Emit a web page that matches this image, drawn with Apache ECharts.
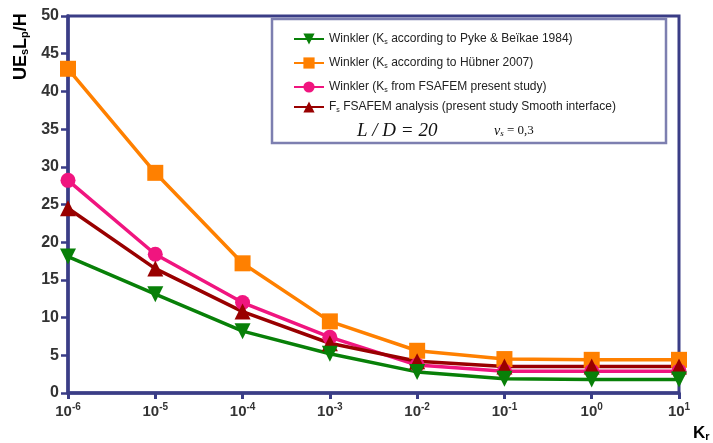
<!DOCTYPE html>
<html>
<head>
<meta charset="utf-8">
<script src="https://cdn.jsdelivr.net/npm/echarts@6/dist/echarts.min.js"></script>
<style>
  html, body { margin: 0; padding: 0; background: #fff; }
  #chart { width: 713px; height: 443px; }
</style>
</head>
<body>
<div id="chart"></div>
<script>
// Relative stiffness K_r, as powers of ten
const exponents = ['-6', '-5', '-4', '-3', '-2', '-1', '0', '1'];

// Normalised head displacement U·E_s·L_p/H for each method
const pykeBeikae = [18.1, 13.1, 8.2, 5.2, 2.8, 1.9, 1.8, 1.8];
const hubner = [43.0, 29.2, 17.2, 9.5, 5.6, 4.5, 4.4, 4.4];
const fsafemWinkler = [28.2, 18.4, 12.0, 7.4, 3.7, 2.9, 2.9, 2.9];
const fsafemSmooth = [24.5, 16.5, 10.8, 6.6, 4.2, 3.5, 3.5, 3.5];

const yTicks = { min: 0, max: 50, step: 5 };

const names = {
  pyke: 'pyke',
  hubner: 'hubner',
  fsafem: 'fsafem',
  smooth: 'smooth'
};
const legendText = {
  pyke: '{t|Winkler (K}{s|s}{t| according to Pyke & Beïkae 1984)}',
  hubner: '{t|Winkler (K}{s|s}{t| according to Hübner 2007)}',
  fsafem: '{t|Winkler (K}{s|s}{t| from FSAFEM present study)}',
  smooth: '{t|F}{s|s}{t| FSAFEM analysis (present study Smooth interface)}'
};

const navy = '#3a3d86';
const labelColor = '#333';

const chart = echarts.init(document.getElementById('chart'));

function legendFor(key, top) {
  return {
    data: [names[key]],
    left: 288,
    top: top,
    itemWidth: 30,
    itemHeight: 14,
    itemGap: 8,
    formatter: () => legendText[key],
    textStyle: {
      rich: {
        t: { fontFamily: 'Liberation Sans, Arial', fontSize: 12, color: '#222' },
        s: { fontFamily: 'Liberation Sans, Arial', fontSize: 7, color: '#222', padding: [6, 0, 0, 0] }
      }
    }
  };
}

function lineSeries(key, data, color, symbol, size, rotate) {
  return {
    name: names[key],
    type: 'line',
    data: data,
    symbol: symbol,
    symbolSize: size,
    symbolRotate: rotate || 0,
    lineStyle: { color: color, width: 3.5 },
    itemStyle: { color: color },
    emphasis: { disabled: true },
    animation: false
  };
}

chart.setOption({
  backgroundColor: '#fff',
  animation: false,
  grid: {
    left: 68, right: 34, top: 16, bottom: 50,
    show: true, borderColor: navy, borderWidth: 3, backgroundColor: 'transparent'
  },
  legend: [
    legendFor('pyke', 28),
    legendFor('hubner', 52),
    legendFor('fsafem', 76),
    legendFor('smooth', 96)
  ],
  xAxis: {
    type: 'category',
    data: exponents,
    boundaryGap: false,
    axisLine: { lineStyle: { color: navy, width: 3.5 } },
    axisTick: { alignWithLabel: true, length: 6, lineStyle: { color: navy, width: 3 } },
    axisLabel: {
      margin: 9,
      formatter: v => '{b|10}{e|' + v + '}',
      rich: {
        b: { fontFamily: 'Liberation Sans, Arial', fontWeight: 'bold', fontSize: 15, color: labelColor },
        e: { fontFamily: 'Liberation Sans, Arial', fontWeight: 'bold', fontSize: 10, color: labelColor, padding: [0, 0, 9, 0] }
      }
    },
    splitLine: { show: false }
  },
  yAxis: {
    type: 'value',
    min: yTicks.min,
    max: yTicks.max,
    interval: yTicks.step,
    axisLine: { show: true, lineStyle: { color: navy, width: 3.5 } },
    axisTick: { show: true, length: 7, lineStyle: { color: navy, width: 2.5 } },
    axisLabel: {
      margin: 9,
      fontFamily: 'Liberation Sans, Arial',
      fontWeight: 'bold',
      fontSize: 16,
      color: labelColor
    },
    splitLine: { show: false }
  },
  graphic: [
    {
      type: 'rect',
      z: 0,
      shape: { x: 272, y: 19, width: 394, height: 124 },
      style: { fill: '#fff', stroke: '#7d7fb0', lineWidth: 2.5 }
    },
    {
      type: 'text',
      x: 357, y: 131,
      style: {
        text: 'L / D = 20',
        font: 'italic 19px "Liberation Serif", "Times New Roman", serif',
        fill: '#111',
        verticalAlign: 'middle'
      }
    },
    {
      type: 'text',
      x: 494, y: 131,
      style: {
        text: '{v|ν}{s|s}{n| = 0,3}',
        verticalAlign: 'middle',
        rich: {
          v: { font: 'italic 14px "Liberation Serif", serif', fill: '#111' },
          s: { font: 'italic 9px "Liberation Serif", serif', fill: '#111', padding: [6, 0, 0, 0] },
          n: { font: '13px "Liberation Serif", serif', fill: '#111' }
        }
      }
    },
    {
      type: 'text',
      x: 21, y: 80,
      rotation: Math.PI / 2,
      style: {
        text: '{a|UE}{b|s}{a|L}{b|p}{a|/H}',
        verticalAlign: 'middle',
        rich: {
          a: { fontFamily: 'Liberation Sans, Arial', fontWeight: 'bold', fontSize: 18, color: '#111' },
          b: { fontFamily: 'Liberation Sans, Arial', fontWeight: 'bold', fontSize: 11, color: '#111', padding: [8, 0, 0, 0] }
        }
      }
    },
    {
      type: 'text',
      x: 693, y: 433,
      style: {
        text: '{a|K}{b|r}',
        verticalAlign: 'middle',
        rich: {
          a: { fontFamily: 'Liberation Sans, Arial', fontWeight: 'bold', fontSize: 17, color: '#111' },
          b: { fontFamily: 'Liberation Sans, Arial', fontWeight: 'bold', fontSize: 11, color: '#111', padding: [8, 0, 0, 0] }
        }
      }
    }
  ],
  series: [
    lineSeries('hubner', hubner, '#ff8000', 'rect', 16),
    lineSeries('fsafem', fsafemWinkler, '#f0157f', 'circle', 15),
    lineSeries('smooth', fsafemSmooth, '#990000', 'triangle', 16),
    lineSeries('pyke', pykeBeikae, '#088008', 'triangle', 16, 180)
  ]
});
</script>
</body>
</html>
